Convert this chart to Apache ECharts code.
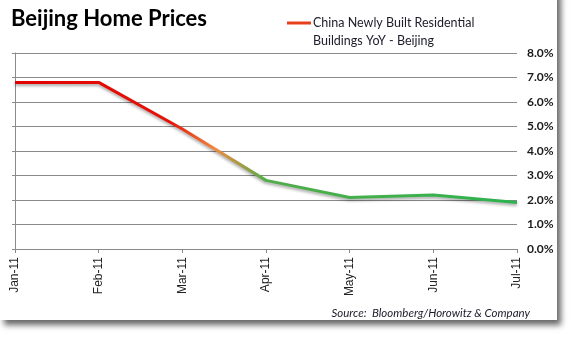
<!DOCTYPE html>
<html>
<head>
<meta charset="utf-8">
<script src="https://cdn.jsdelivr.net/npm/echarts@6/dist/echarts.min.js"></script>
<style>
html,body{margin:0;padding:0;background:#fff;}
#chart{width:571px;height:337px;}
</style>
</head>
<body>
<div id="chart"></div>
<script>
const categories = ['Jan-11','Feb-11','Mar-11','Apr-11','May-11','Jun-11','Jul-11'];
const values = [6.8, 6.8, 4.9, 2.8, 2.1, 2.2, 1.9];
const seriesName = 'China Newly Built Residential\nBuildings YoY - Beijing';
const titleText = 'Beijing Home Prices';
const sourceText = 'Source:  Bloomberg/Horowitz & Company';

const chart = echarts.init(document.getElementById('chart'), null, {renderer:'canvas'});
const lineGrad = new echarts.graphic.LinearGradient(0,0,1,0,[
  {offset:0, color:'#e20000'},
  {offset:0.31, color:'#e41408'},
  {offset:0.4, color:'#f08a40'},
  {offset:0.46, color:'#93a042'},
  {offset:0.5, color:'#52ad4a'},
  {offset:1, color:'#2bb34f'}
]);
const axisGray = '#8a8a8a';
chart.setOption({
  animation:false,
  backgroundColor:'#fff',
  title:{
    text:titleText, left:11, top:8, padding:0,
    textStyle:{fontFamily:'Lato', fontWeight:'bold', fontSize:22, color:'#000'}
  },
  legend:{
    left:287, top:14, padding:0,
    itemWidth:24, itemHeight:21, itemGap:0,
    icon:'path://M0,0 L24,0 L24,3 L0,3 Z M0,20.99 L0.01,20.99 L0.01,21 L0,21 Z',
    data:[{name:seriesName, itemStyle:{color:'#e8401a'}}],
    textStyle:{fontFamily:'Lato', fontSize:12.5, lineHeight:18, color:'#1c1c2a', padding:[0,0,0,-3]}
  },
  grid:{left:15, right:54, top:53, bottom:88},
  xAxis:{
    type:'category', data:categories, boundaryGap:false,
    axisLine:{lineStyle:{color:axisGray, width:1}},
    axisTick:{show:true, length:4, lineStyle:{color:axisGray}},
    axisLabel:{rotate:90, margin:8, fontFamily:'Liberation Sans', fontSize:12, color:'#222'},
    splitLine:{show:false}
  },
  yAxis:[{
    type:'value', position:'right', min:0, max:8, interval:1,
    axisLine:{show:false}, axisTick:{show:false},
    axisLabel:{margin:10, fontFamily:'Lato', fontWeight:'bold', fontSize:12, color:'#1a1a1a',
      formatter:v=>v.toFixed(1)+'%'},
    splitLine:{lineStyle:{color:axisGray, width:1}}
  },{
    type:'value', position:'left', min:0, max:8, interval:1,
    axisLine:{show:true, lineStyle:{color:axisGray}},
    axisTick:{show:true, length:3, lineStyle:{color:axisGray}},
    axisLabel:{show:false}, splitLine:{show:false}
  }],
  series:[{
    name:seriesName, type:'line', data:values, yAxisIndex:0,
    symbol:'none', smooth:false,
    lineStyle:{width:3, color:lineGrad, shadowColor:'rgba(0,0,0,0.35)', shadowBlur:3, shadowOffsetY:2}
  }],
  graphic:[
    {type:'rect', z:-10, silent:true, shape:{x:0,y:-10,width:557,height:330},
     style:{fill:'#fff', shadowColor:'rgba(0,0,0,0.6)', shadowBlur:6, shadowOffsetX:4, shadowOffsetY:5}},
    {type:'text', right:41, top:307,
     style:{text:sourceText, fontFamily:'Lato', fontStyle:'italic', fontSize:11.5, fill:'#1c1c2a'}}
  ]
});
</script>
</body>
</html>
